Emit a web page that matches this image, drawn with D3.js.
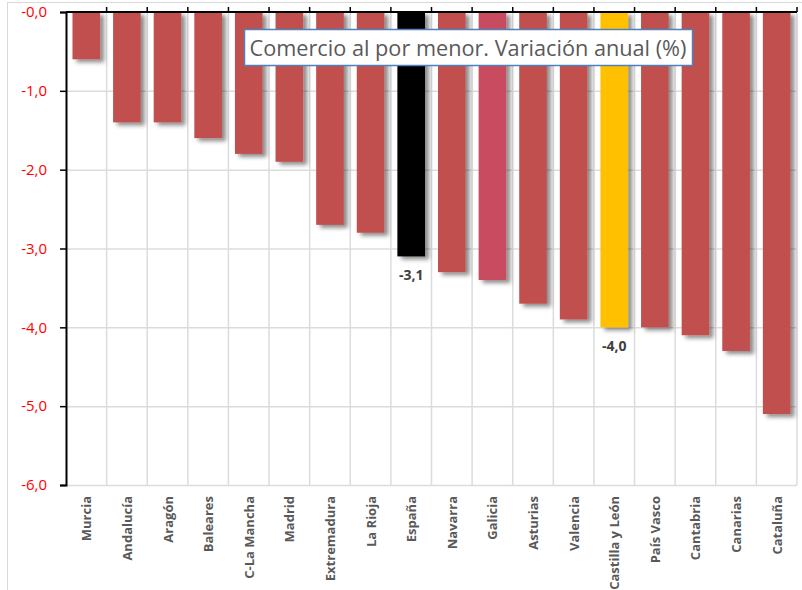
<!DOCTYPE html>
<html>
<head>
<meta charset="utf-8">
<script src="https://cdn.jsdelivr.net/npm/d3@7"></script>
<style>
  body { margin: 0; background: #fff; }
  svg { display: block; font-family: "Open Sans", sans-serif; }
</style>
</head>
<body>
<div id="chart"></div>
<script>
// Comercio al por menor — variación anual por comunidad
const regions = ["Murcia", "Andalucía", "Aragón", "Baleares", "C-La Mancha", "Madrid", "Extremadura",
  "La Rioja", "España", "Navarra", "Galicia", "Asturias", "Valencia", "Castilla y León",
  "País Vasco", "Cantabria", "Canarias", "Cataluña"];
const values = [-0.6, -1.4, -1.4, -1.6, -1.8, -1.9, -2.7, -2.8, -3.1, -3.3, -3.4, -3.7, -3.9, -4.0,
  -4.0, -4.1, -4.3, -5.1];
const yTicks = [0, -1, -2, -3, -4, -5, -6];
const labelled = ["España", "Castilla y León"];
const title = "Comercio al por menor. Variación anual (%)";

const W = 802, H = 590;
const m = { top: 12, right: 5, bottom: 105, left: 66 };

const svg = d3.select("#chart").append("svg").attr("width", W).attr("height", H);

// drop shadow like the spreadsheet bars
const defs = svg.append("defs");
const f = defs.append("filter").attr("id", "shadow").attr("x", "-20%").attr("y", "-5%").attr("width", "160%").attr("height", "120%");
f.append("feDropShadow").attr("dx", 4).attr("dy", 3).attr("stdDeviation", 2).attr("flood-color", "#000").attr("flood-opacity", 0.45);

// outer frame
svg.append("rect").attr("x", 7.5).attr("y", 2.5).attr("width", W - 4).attr("height", H + 10)
  .attr("fill", "none").attr("stroke", "#d9d9d9");

const x = d3.scaleBand().domain(regions).range([m.left, W - m.right]).paddingInner(0.32).paddingOuter(0.16);
const y = d3.scaleLinear().domain([-6, 0]).range([H - m.bottom, m.top]);

const colorOf = r => r === "España" ? "#000000" : r === "Castilla y León" ? "#FFC000" : r === "Galicia" ? "#C94B5F" : "#C0504D";
const fmt = v => (v === 0 ? "-0,0" : d3.format(".1f")(v).replace(".", ",").replace("−", "-"));

// gridlines
const step = x.step();
const bounds = d3.range(regions.length + 1).map(i => m.left + i * step);
svg.append("g").selectAll("line").data(yTicks.slice(1)).join("line")
  .attr("x1", m.left).attr("x2", W - m.right).attr("y1", d => y(d) + 0.5).attr("y2", d => y(d) + 0.5)
  .attr("stroke", "#dcdcdc").attr("stroke-width", 1.5);
svg.append("g").selectAll("line").data(bounds.slice(1)).join("line")
  .attr("x1", d => d).attr("x2", d => d).attr("y1", m.top).attr("y2", y(-6))
  .attr("stroke", "#dcdcdc").attr("stroke-width", 1.5);

// bars
svg.append("g").selectAll("rect").data(regions).join("rect")
  .attr("x", d => x(d)).attr("width", x.bandwidth())
  .attr("y", y(0)).attr("height", (d, i) => y(values[i]) - y(0))
  .attr("fill", d => colorOf(d)).attr("filter", "url(#shadow)");

// y axis
const yAxis = svg.append("g").attr("transform", `translate(${m.left},0)`)
  .call(d3.axisLeft(y).tickValues(yTicks).tickSize(6).tickFormat(fmt));
yAxis.select(".domain").attr("stroke", "#000").attr("stroke-width", 2);
yAxis.selectAll(".tick line").attr("stroke", "#000").attr("stroke-width", 1.5);
yAxis.selectAll("text").attr("fill", "#FF0000").style("font-size", "15px").attr("x", -19)
  .style("font-family", "'Open Sans', sans-serif");

// zero line with upward ticks at band boundaries
svg.append("line").attr("x1", m.left).attr("x2", W - m.right).attr("y1", y(0)).attr("y2", y(0))
  .attr("stroke", "#000").attr("stroke-width", 2);
svg.append("g").selectAll("line").data(bounds.slice(1)).join("line")
  .attr("x1", d => d).attr("x2", d => d).attr("y1", y(0) - 5).attr("y2", y(0))
  .attr("stroke", "#000").attr("stroke-width", 1.5);

// x labels
svg.append("g").selectAll("text").data(regions).join("text")
  .attr("transform", d => `translate(${x(d) + x.bandwidth() / 2 + 5},${y(-6) + 11}) rotate(-90)`)
  .attr("text-anchor", "end")
  .attr("fill", "#595959").style("font-size", "13px").style("font-weight", "bold")
  .text(d => d);

// data labels
svg.append("g").selectAll("text").data(regions.filter(r => labelled.includes(r))).join("text")
  .attr("x", d => x(d) + x.bandwidth() / 2)
  .attr("y", d => y(values[regions.indexOf(d)]) + 24)
  .attr("text-anchor", "middle").attr("fill", "#404040")
  .style("font-size", "14px").style("font-weight", "bold")
  .text(d => fmt(values[regions.indexOf(d)]));

// title box
const tb = svg.append("g");
tb.append("rect").attr("x", 244.5).attr("y", 29.5).attr("width", 448).attr("height", 36)
  .attr("fill", "#fff").attr("stroke", "#4F81BD").attr("stroke-width", 1.5);
tb.append("text").attr("x", 468).attr("y", 55.5).attr("text-anchor", "middle")
  .attr("fill", "#595959").style("font-size", "21.7px").text(title);
</script>
</body>
</html>
